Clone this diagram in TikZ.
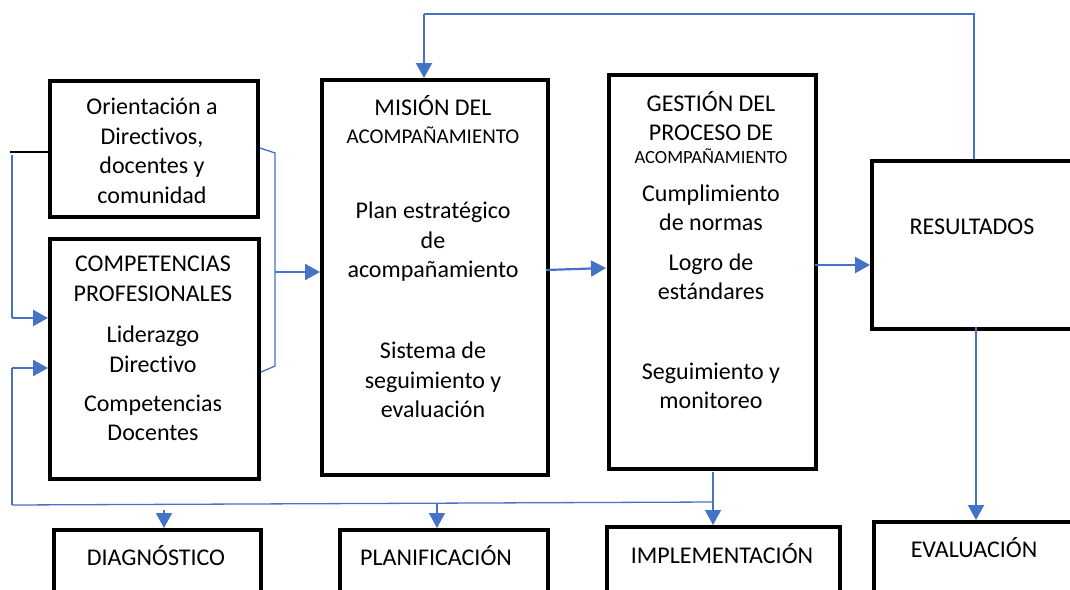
\documentclass[tikz,border=0pt]{standalone}
\usepackage{fontspec}
\setmainfont{Carlito}[Ligatures=NoCommon]
\usepackage{tikz}
\usetikzlibrary{arrows.meta,positioning}
\definecolor{officeblue}{RGB}{68,114,196}

\begin{document}
\begin{tikzpicture}[x=0.5pt,y=-0.5pt,>={Triangle[length=7.5pt,width=8pt]},
		box/.style={draw,line width=2pt,anchor=north west,inner sep=0pt},
		txt/.style={align=center,inner sep=0pt,font=\fontsize{12}{14.75}\selectfont},
		link/.style={draw=officeblue,line width=1.1pt},
		wire/.style={draw=officeblue,line width=0.65pt}]
		\useasboundingbox (0,0) rectangle (1070,589);

		% boxes
		\node[box,minimum width=104pt,minimum height=68pt] (orient) at (48,79) {};
		\node[box,minimum width=104.5pt,minimum height=120pt] (compet) at (48,237) {};
		\node[box,minimum width=113pt,minimum height=197.5pt] (mision) at (320,78) {};
		\node[box,minimum width=103.5pt,minimum height=197pt] (gestion) at (607,73) {};
		\node[box,minimum width=101pt,minimum height=84pt] (result) at (870,159) {};
		\node[box,minimum width=103.5pt,minimum height=40pt] (diag) at (52,528) {};
		\node[box,minimum width=104pt,minimum height=40pt] (plan) at (338,528) {};
		\node[box,minimum width=116.5pt,minimum height=40pt] (impl) at (605,525) {};
		\node[box,minimum width=100pt,minimum height=40pt] (eval) at (872,520) {};

		% texts
		\node[txt] (t-orient) at (152,151) {Orientación a\\Directivos,\\docentes y\\comunidad};
		\node[txt] (t-compet) at (153,279) {COMPETENCIAS\\PROFESIONALES};
		\node[txt] (t-lider) at (153,349) {Liderazgo\\Directivo};
		\node[txt] (t-docen) at (153,418) {Competencias\\Docentes};
		\node[txt] (t-mision) at (433,106) {MISIÓN DEL};
		\node[txt,font=\fontsize{10.5}{12}\selectfont] (t-acomp1) at (433,135) {ACOMPAÑAMIENTO};
		\node[txt] (t-plan) at (433,242) {Plan estratégico\\de\\acompañamiento};
		\node[txt] (t-sist) at (433,380) {Sistema de\\seguimiento y\\evaluación};
		\node[txt] (t-gestion) at (711,116) {GESTIÓN DEL\\PROCESO DE};
		\node[txt,font=\fontsize{9.3}{11}\selectfont] (t-acomp2) at (711,156) {ACOMPAÑAMIENTO};
		\node[txt] (t-cumpl) at (711,208) {Cumplimiento\\de normas};
		\node[txt] (t-logro) at (711,277) {Logro de\\estándares};
		\node[txt] (t-segui) at (711,386) {Seguimiento y\\monitoreo};
		\node[txt] (t-result) at (972,227) {RESULTADOS};
		\node[txt] (t-diag) at (156,556) {DIAGNÓSTICO};
		\node[txt] (t-plani) at (436,556) {PLANIFICACIÓN};
		\node[txt] (t-impl) at (722,554) {IMPLEMENTACIÓN};
		\node[txt] (t-eval) at (974,548) {EVALUACIÓN};

		% connector corners
		\coordinate (lt) at (10,152);
		\coordinate (l1) at (12,155);
		\coordinate (a1) at (12,318);
		\coordinate (a2) at (12,368);
		\coordinate (bl) at (12,505);
		\coordinate (br) at (713,502);
		\coordinate (g1) at (713,472);
		\coordinate (d1) at (164,510);
		\coordinate (p1) at (437,503);
		\coordinate (r1) at (275,153);
		\coordinate (r2) at (275,366);
		\coordinate (r3) at (275,272);
		\coordinate (m1) at (546,270);
		\coordinate (m2) at (606,268);
		\coordinate (s1) at (815,265);
		\coordinate (top) at (424,14);
		\coordinate (e1) at (976,327);

		\draw[line width=0.65pt] (lt) -- (lt -| orient.west);
		\path[wire] (l1) -- (a1);
		\draw[link,->] (a1) -- (a1 -| compet.west);
		\path[wire] (bl) -- (a2);
		\draw[link,->] (a2) -- (a2 -| compet.west);
		\path[wire] ([yshift=0.5pt]orient.east) -- (r1) -- (r2) -- ([yshift=-6.5pt]compet.east);
		\draw[link,->] (r3) -- (r3 -| mision.west);
		\draw[link,->] (m1) -- (m2);
		\draw[link,->] (s1) -- (s1 -| result.west);
		\path[wire] (result.north -| 974,0) -- (974,14) -- (top);
		\draw[link,->] (top) -- (top |- mision.north);
		\draw[link,->] (e1) -- (e1 |- eval.north);
		\path[wire] (bl) -- (br);
		\draw[wire,->] (g1) -- (g1 |- impl.north);
		\draw[wire,->] (d1) -- (d1 |- diag.north);
		\draw[wire,->] (p1) -- (p1 |- plan.north);
	\end{tikzpicture}
\end{document}
